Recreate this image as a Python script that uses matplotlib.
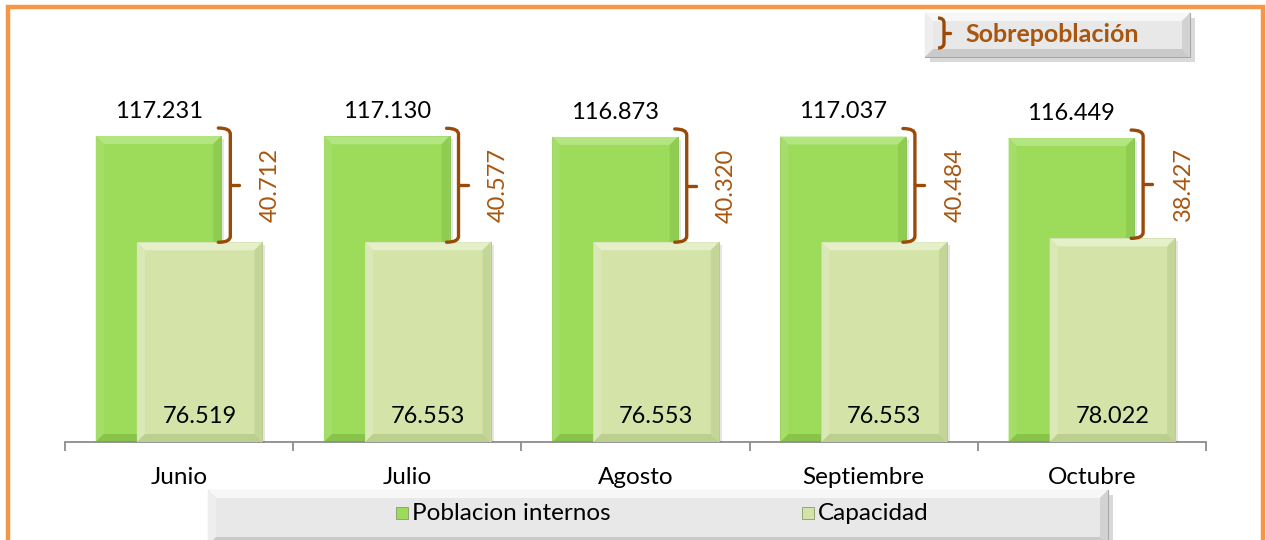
import matplotlib
matplotlib.use('Agg')
import matplotlib.pyplot as plt
from matplotlib.patches import Polygon, Rectangle, PathPatch
from matplotlib.path import Path
from matplotlib.transforms import Affine2D
import numpy as np

# ---------------- data ----------------
months = ['Junio', 'Julio', 'Agosto', 'Septiembre', 'Octubre']
poblacion = [117231, 117130, 116873, 117037, 116449]
capacidad = [76519, 76553, 76553, 76553, 78022]
sobrepoblacion = [40712, 40577, 40320, 40484, 38427]
series_names = ['Poblacion internos', 'Capacidad']
legend_extra = 'Sobrepoblación'


def fmt(v):
    return f"{v:,}".replace(',', '.')


plt.rcParams['font.family'] = ['Lato', 'DejaVu Sans']

W, H = 1266, 540
fig = plt.figure(figsize=(W / 100, H / 100), dpi=100)
PX = Affine2D().scale(1, -1).translate(0, H)  # figure pixels, y from top

GREEN = '#9DDB5A'
LIGHT = '#D4E4A9'
BROWN = '#9A4A08'
BROWN_T = '#A8560F'
ORANGE = '#F79646'
AXC = '#8C8C8C'
FS = 17.5

ax_l, ax_r, ax_b, ax_t = 65, 1206, 442, 50.5
ax = fig.add_axes([ax_l / W, (H - ax_b) / H, (ax_r - ax_l) / W, (ax_b - ax_t) / H])
ymax = 150000
ax.set_xlim(-0.5, len(months) - 0.5)
ax.set_ylim(0, ymax)
px_x = (ax_r - ax_l) / len(months)      # pixels per x unit
px_y = (ax_b - ax_t) / ymax             # pixels per y unit

for s in ['top', 'right', 'left']:
    ax.spines[s].set_visible(False)
ax.spines['bottom'].set_color(AXC)
ax.spines['bottom'].set_linewidth(1.3)
ax.set_yticks([])
ax.set_xticks(np.arange(-0.5, len(months), 1))
ax.set_xticklabels([])
ax.tick_params(axis='x', which='major', length=6.5, width=1.3, color=AXC, direction='out')
ax.set_xticks(range(len(months)), minor=True)
ax.set_xticklabels(months, minor=True, fontsize=FS)
ax.tick_params(axis='x', which='minor', length=0, pad=18)
ax.patch.set_alpha(0)

x = np.arange(len(months))
off, bw = 0.09, 0.55


def bevel(patch, cols, z, bpx=8):
    x0, y0 = patch.get_x(), patch.get_y()
    x1, y1 = x0 + patch.get_width(), y0 + patch.get_height()
    bx, by = bpx / px_x, bpx / px_y
    top, left, right, bottom = cols
    # shadow
    ax.add_patch(Rectangle((x0 + 3 / px_x, y0), x1 - x0, y1 - y0 - 3 / px_y,
                           facecolor='#000000', alpha=0.10, zorder=z - 0.5, lw=0))
    ax.add_patch(Polygon([(x0, y1), (x1, y1), (x1 - bx, y1 - by), (x0 + bx, y1 - by)],
                         facecolor=top, lw=0, zorder=z + 0.1))
    ax.add_patch(Polygon([(x0, y0), (x0, y1), (x0 + bx, y1 - by), (x0 + bx, y0 + by)],
                         facecolor=left, lw=0, zorder=z + 0.1))
    ax.add_patch(Polygon([(x1, y0), (x1, y1), (x1 - bx, y1 - by), (x1 - bx, y0 + by)],
                         facecolor=right, lw=0, zorder=z + 0.1))
    ax.add_patch(Polygon([(x0, y0), (x1, y0), (x1 - bx, y0 + by), (x0 + bx, y0 + by)],
                         facecolor=bottom, lw=0, zorder=z + 0.1))


bars_g = ax.bar(x - off, poblacion, width=bw, color=GREEN, zorder=2, lw=0.6, edgecolor='#86BE4C')
bars_l = ax.bar(x + off, capacidad, width=bw, color=LIGHT, zorder=4, lw=0.6, edgecolor='#B2C583')
for p in bars_g:
    bevel(p, ['#B3E581', '#A4DE69', '#8ECD4F', '#88C34A'], 2)
for p in bars_l:
    bevel(p, ['#E5EFCA', '#DAE8B6', '#C4D697', '#BDCF8F'], 4)

# value labels
for xi, v in zip(x - off, poblacion):
    ax.annotate(fmt(v), (xi, v), xytext=(0, 13), textcoords='offset points',
                ha='center', va='baseline', fontsize=FS - 0.5, color='black', zorder=6)
for xi, v in zip(x + off, capacidad):
    ax.text(xi, 19 / px_y, fmt(v), ha='center', va='baseline', fontsize=FS - 0.5,
            color='black', zorder=6)

# brackets
hk, r, nub = 12 / px_x, 6 / px_y, 9 / px_x
for xi, p, c, s in zip(x - off, poblacion, capacidad, sobrepoblacion):
    xb = xi + bw / 2 + 9 / px_x
    yt, yb = p + 8 / px_y, c
    ym = (yt + yb) / 2
    verts = [(xb - hk, yt), (xb, yt), (xb, yt - r), (xb, yb + r), (xb, yb), (xb - hk, yb)]
    codes = [Path.MOVETO, Path.CURVE3, Path.CURVE3, Path.LINETO, Path.CURVE3, Path.CURVE3]
    ax.add_patch(PathPatch(Path(verts, codes), facecolor='none', edgecolor=BROWN,
                           lw=2.4, capstyle='round', zorder=7, clip_on=False))
    ax.plot([xb, xb + nub], [ym, ym], color=BROWN, lw=2.4, solid_capstyle='round',
            zorder=7, clip_on=False)
    ax.text(xb + 40 / px_x, ym, fmt(s), rotation=90, ha='center', va='center',
            fontsize=FS - 0.5, color=BROWN_T, zorder=7)


# ---------------- figure decorations ----------------
def fig_poly(pts, **kw):
    fig.add_artist(Polygon(pts, transform=PX, **kw))


def bevel_box(x0, y0, x1, y1, b=8):
    fig_poly([(x0 + 5, y0 + 5), (x1 + 5, y0 + 5), (x1 + 5, y1 + 5), (x0 + 5, y1 + 5)],
             facecolor='#000000', alpha=0.15, lw=0)
    fig_poly([(x0, y0), (x1, y0), (x1, y1), (x0, y1)], facecolor='#E4E4E4',
             edgecolor='#A8A8A8', lw=0.8)
    fig_poly([(x0, y0), (x1, y0), (x1 - b, y0 + b), (x0 + b, y0 + b)], facecolor='#F7F7F7', lw=0)
    fig_poly([(x0, y0), (x0 + b, y0 + b), (x0 + b, y1 - b), (x0, y1)], facecolor='#EEEEEE', lw=0)
    fig_poly([(x1, y0), (x1 - b, y0 + b), (x1 - b, y1 - b), (x1, y1)], facecolor='#D2D2D2', lw=0)
    fig_poly([(x0, y1), (x0 + b, y1 - b), (x1 - b, y1 - b), (x1, y1)], facecolor='#CACACA', lw=0)
    fig_poly([(x0 + b, y0 + b), (x1 - b, y0 + b), (x1 - b, y1 - b), (x0 + b, y1 - b)],
             facecolor='#E8E8E8', lw=0)


# top legend (Sobrepoblación)
bevel_box(925, 13, 1190, 57)
bx = 944
verts = [(bx - 6, 18), (bx, 18), (bx, 23), (bx, 43), (bx, 48), (bx - 6, 48)]
codes = [Path.MOVETO, Path.CURVE3, Path.CURVE3, Path.LINETO, Path.CURVE3, Path.CURVE3]
fig.add_artist(PathPatch(Path(verts, codes), transform=PX, facecolor='none',
                         edgecolor=BROWN, lw=2.4))
fig.add_artist(plt.Line2D([bx, bx + 6], [33, 33], transform=PX, color=BROWN, lw=2.4,
                          solid_capstyle='round'))
fig.text(965 / W, (H - 34) / H, legend_extra, ha='left', va='center', fontsize=18,
         fontweight='bold', color=BROWN_T)

# bottom legend
bevel_box(208, 490, 1108, 545)
for (sx, col, name) in [(396, GREEN, series_names[0]), (802, LIGHT, series_names[1])]:
    fig_poly([(sx, 507), (sx + 12, 507), (sx + 12, 519), (sx, 519)], facecolor=col,
             edgecolor='#8A9A6A', lw=0.6)
    fig.text((sx + 16) / W, (H - 514) / H, name, ha='left', va='center', fontsize=FS,
             color='black')

# orange frame
fig.add_artist(plt.Line2D([8, 8, 1263, 1263], [H + 5, 7, 7, H + 5], transform=PX,
                          color=ORANGE, lw=3.2, solid_joinstyle='miter'))

fig.savefig('out.png', dpi=100)
